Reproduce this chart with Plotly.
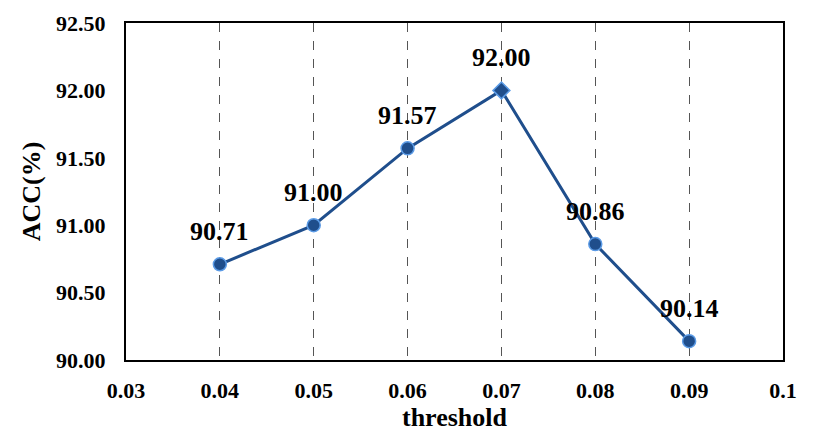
import plotly.graph_objects as go

# Dados
thresholds = [0.04, 0.05, 0.06, 0.07, 0.08, 0.09]
acc = [90.71, 91.00, 91.57, 92.00, 90.86, 90.14]
marker_symbols = ['circle', 'circle', 'circle', 'diamond', 'circle', 'circle']
x_ticks = [0.03, 0.04, 0.05, 0.06, 0.07, 0.08, 0.09, 0.1]
x_tick_labels = ['0.03', '0.04', '0.05', '0.06', '0.07', '0.08', '0.09', '0.1']
y_ticks = [90.0, 90.5, 91.0, 91.5, 92.0, 92.5]

FONT = 'Liberation Serif'
LINE_COLOR = '#1F4E8C'

fig = go.Figure()

fig.add_trace(go.Scatter(
    x=thresholds,
    y=acc,
    mode='lines+markers',
    line=dict(color=LINE_COLOR, width=3),
    marker=dict(symbol=marker_symbols, size=13, color=LINE_COLOR,
                line=dict(color='#5B9BE6', width=1.5)),
    cliponaxis=False,
    showlegend=False
))

# Rótulos de valor acima de cada ponto
for x, y in zip(thresholds, acc):
    fig.add_annotation(
        x=x, y=y, text=f'<b>{y:.2f}</b>',
        showarrow=False, yanchor='bottom', yshift=16,
        font=dict(family=FONT, size=26, color='black'),
    )

fig.update_layout(
    width=830, height=442,
    margin=dict(l=118, r=55, t=15, b=90),
    plot_bgcolor='white',
    paper_bgcolor='white',
    font=dict(family=FONT, color='black'),
    xaxis=dict(
        range=[0.03, 0.1],
        tickvals=x_ticks,
        ticktext=[f'<b>{t}</b>' for t in x_tick_labels],
        tickfont=dict(family=FONT, size=22, color='black'),
        title=dict(text='<b>threshold</b>', font=dict(family=FONT, size=26), standoff=4),
        showgrid=True, gridcolor='#555555', griddash='dash', gridwidth=1.3,
        showline=True, linecolor='black', linewidth=2, mirror=True,
        zeroline=False, ticks='', ticklabelstandoff=10, automargin=False,
    ),
    yaxis=dict(
        range=[90.0, 92.5],
        tickvals=y_ticks,
        ticktext=[f'<b>{v:.2f}</b>' for v in y_ticks],
        tickfont=dict(family=FONT, size=22, color='black'),
        title=dict(text='<b>ACC(%)</b>', font=dict(family=FONT, size=26), standoff=8),
        showgrid=False,
        showline=True, linecolor='black', linewidth=2, mirror=True,
        zeroline=False, ticks='', ticklabelstandoff=14, automargin=False,
    ),
)

fig.write_html("out.html")
